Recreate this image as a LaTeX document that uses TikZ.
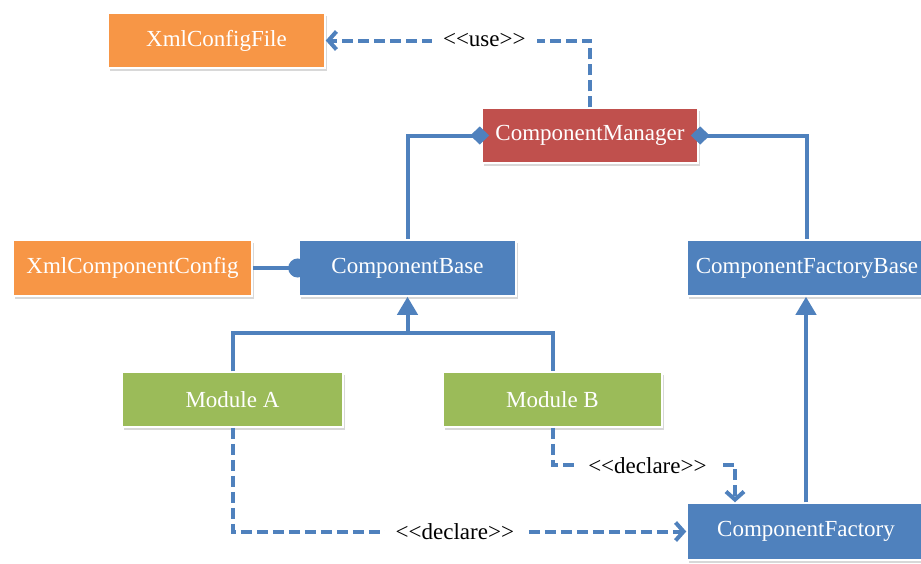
\documentclass[tikz,border=0pt]{standalone}
\usepackage{fontspec}
\setmainfont{Liberation Serif}
\usetikzlibrary{arrows.meta,shadows,calc}
\definecolor{cOrange}{HTML}{F79646}
\definecolor{cRed}{HTML}{C0504D}
\definecolor{cBlue}{HTML}{4F81BD}
\definecolor{cGreen}{HTML}{9BBB59}
\newcommand{\stereo}[1]{\textless\kern0pt\textless#1\textgreater\kern0pt\textgreater}
\begin{document}
\begin{tikzpicture}[x=1pt,y=-1pt,
 box/.style={draw=white, line width=1.5pt, text=white, minimum height=55pt, inner sep=0pt,
   font=\fontsize{23}{27}\selectfont,
   drop shadow={shadow xshift=1.5pt, shadow yshift=-2.5pt, opacity=0.3}},
 conn/.style={draw=cBlue, line width=4pt},
 dep/.style={conn, dash pattern=on 11pt off 5pt, -{Straight Barb[length=8pt,width=18pt,line width=4pt]}},
 lbl/.style={fill=white, text=black, font=\fontsize{23}{27}\selectfont, inner xsep=11pt, inner ysep=2pt},
 comp/.style={{Diamond[length=19pt,width=18pt,fill=cBlue]}-},
 gen/.style={-{Triangle[length=18pt,width=20pt]}}
]
\fill[white] (0,0) rectangle (921,563);
\useasboundingbox (0,0) rectangle (921,563);

\node[box, fill=cOrange, minimum width=217pt] (xcf) at (216.5,40.5) {XmlConfigFile};
\node[box, fill=cRed, minimum width=216pt] (cm) at (590,135.5) {ComponentManager};
\node[box, fill=cOrange, minimum width=239pt, minimum height=56pt] (xcc) at (132.5,268) {XmlComponentConfig};
\node[box, fill=cBlue, minimum width=217pt, minimum height=56pt] (cb) at (407.5,268) {ComponentBase};
\node[box, fill=cBlue, minimum width=240pt, minimum height=56pt] (cfb) at (807,268) {ComponentFactoryBase};
\node[box, fill=cGreen, minimum width=221pt] (ma) at (232.5,399.5) {Module A};
\node[box, fill=cGreen, minimum width=219pt] (mb) at (552.5,399.5) {Module B};
\node[box, fill=cBlue, minimum width=238pt, minimum height=57pt] (cf) at (806,531.5) {ComponentFactory};

\draw[conn, comp] ([xshift=8pt]cm.west) -| (cb.north);
\draw[conn, comp] ([xshift=-8pt]cm.east) -| (cfb.north);
\draw[conn, -{Circle[length=19pt,fill=cBlue]}] (xcc.east) -- ([xshift=9pt]cb.west);
\coordinate (j) at (407.5,333);
\draw[conn] (ma.north) |- (j) -| (mb.north);
\draw[conn, gen] (j) -- (cb.south);
\draw[conn, gen] (cf.north) -- (cf.north |- cfb.south);

\draw[dep] (cm.north) |- node[lbl, pos=0.7] {\stereo{use}} (xcf.east);
\draw[dep] (ma.south) |- node[lbl, pos=0.745] {\stereo{declare}} (cf.west);
\draw[dep] (mb.south) -- ++(0,37.5) -| node[lbl, pos=0.26] {\stereo{declare}} ([xshift=-71pt]cf.north);
\end{tikzpicture}
\end{document}
